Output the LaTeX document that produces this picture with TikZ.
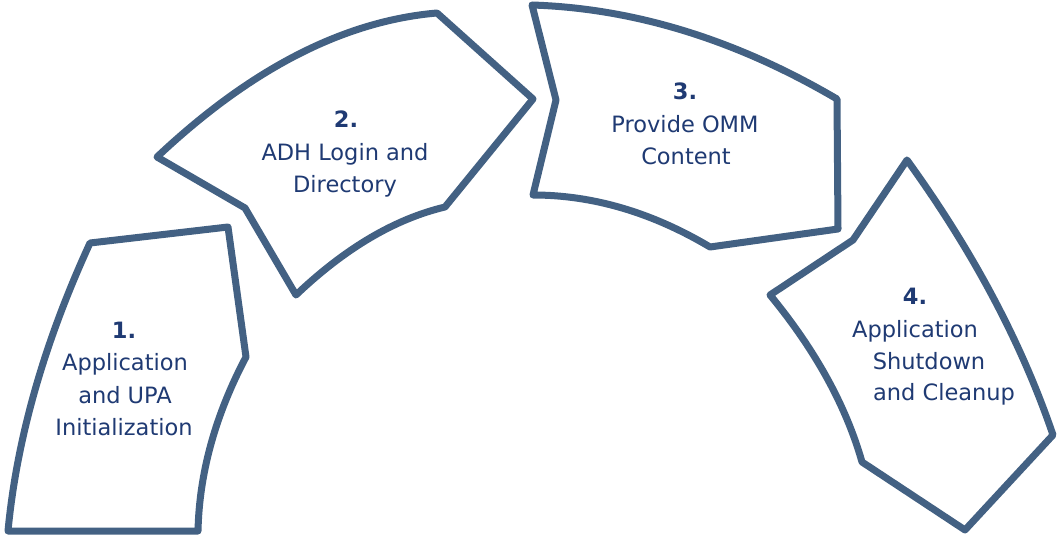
\documentclass[tikz,border=0pt]{standalone}
\usepackage{fontspec}
\setmainfont{DejaVu Sans}
\definecolor{edgec}{HTML}{436183}
\definecolor{textc}{HTML}{1F3A73}
\begin{document}
\begin{tikzpicture}[x=1pt,y=-1pt,
  seg/.style={draw=edgec,line width=7pt,line join=round,fill=white},
  lbl/.style={text=textc,anchor=base,inner sep=0pt,font=\fontsize{22.5}{27}\selectfont},
  num/.style={lbl,font=\fontsize{22.5}{27}\selectfont\bfseries}]
\useasboundingbox (0,0) rectangle (1057,537);
% shape 1
\draw[seg] (8,531) .. controls (16.7,439) and (44,343) .. (90,243)
  -- (228,227) -- (246,357)
  .. controls (215.3,415) and (199.3,473) .. (198,531) -- cycle;
% shape 2
\draw[seg] (157,157) .. controls (250.3,69) and (343.7,21) .. (437,13)
  -- (533,99) -- (445,207)
  .. controls (394.7,219) and (345,248.3) .. (296,295)
  -- (245,208) -- cycle;
% shape 3
\draw[seg] (532,5) .. controls (634.3,8.3) and (736,39.7) .. (837,99)
  -- (838,229) -- (710,247)
  .. controls (651.7,212.3) and (592.7,195) .. (533,195)
  -- (556,100) -- cycle;
% shape 4
\draw[seg] (907,160) .. controls (973,251.3) and (1021.7,343) .. (1053,435)
  -- (965,530) -- (862,462)
  .. controls (846,405.7) and (815.3,350) .. (770,295)
  -- (853,240) -- cycle;
% texts
\node[num] (n1) at (124,338) {1.};
\node[lbl] (t1a) at (125,370) {Application};
\node[lbl] (t1b) at (125,403) {and UPA};
\node[lbl] (t1c) at (124,435) {Initialization};
\node[num] (n2) at (346,128) {2.};
\node[lbl] (t2a) at (345,161) {ADH Login and};
\node[lbl] (t2b) at (345,193) {Directory};
\node[num] (n3) at (685,100) {3.};
\node[lbl] (t3a) at (685,133) {Provide OMM};
\node[lbl] (t3b) at (686,165) {Content};
\node[num] (n4) at (915,305) {4.};
\node[lbl] (t4a) at (915,337) {Application};
\node[lbl] (t4b) at (929,369) {Shutdown};
\node[lbl] (t4c) at (944,400) {and Cleanup};
\end{tikzpicture}
\end{document}
